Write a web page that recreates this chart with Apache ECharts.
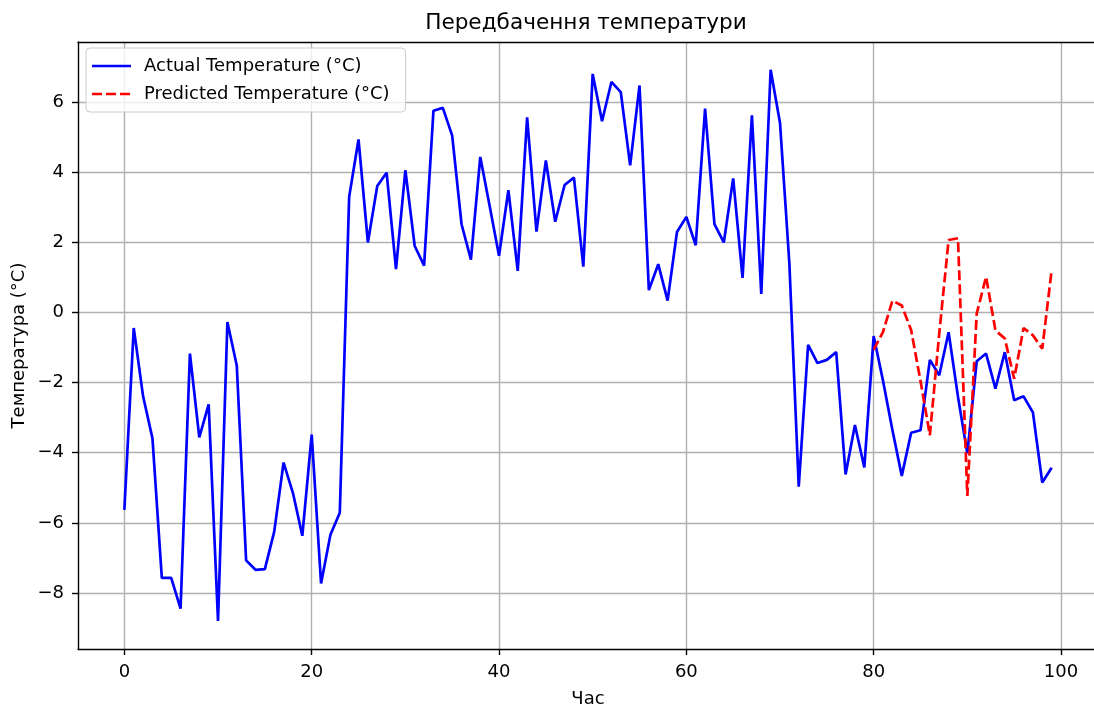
<!DOCTYPE html>
<html>
<head>
<meta charset="utf-8">
<script src="https://cdn.jsdelivr.net/npm/echarts@6/dist/echarts.min.js"></script>
<style>
  html, body { margin: 0; padding: 0; background: #fff; }
  #chart { width: 1094px; height: 706px; }
</style>
</head>
<body>
<div id="chart"></div>
<script>
// Hourly temperature: measured series (hours 0-99) and forecast (from hour 80)
const actualTemp = [
  -5.63, -0.44, -2.39, -3.59, -7.57, -7.57, -8.45, -1.17, -3.56, -2.62,
  -8.80, -0.27, -1.51, -7.07, -7.34, -7.32, -6.25, -4.28, -5.15, -6.37,
  -3.48, -7.73, -6.34, -5.71, 3.30, 4.94, 2.00, 3.61, 3.99, 1.24,
  4.06, 1.90, 1.34, 5.76, 5.84, 5.05, 2.52, 1.51, 4.44, 3.04,
  1.62, 3.49, 1.19, 5.57, 2.31, 4.34, 2.59, 3.64, 3.85, 1.31,
  6.81, 5.46, 6.58, 6.29, 4.20, 6.48, 0.64, 1.38, 0.34, 2.30,
  2.73, 1.92, 5.82, 2.52, 2.00, 3.83, 0.99, 5.63, 0.53, 6.93,
  5.41, 1.40, -4.97, -0.92, -1.44, -1.35, -1.13, -4.62, -3.21, -4.42,
  -0.67, -1.95, -3.35, -4.66, -3.43, -3.36, -1.35, -1.79, -0.56, -2.40,
  -4.02, -1.39, -1.17, -2.17, -1.13, -2.50, -2.39, -2.85, -4.85, -4.43
];
const predictedStartHour = 80;
const predictedTemp = [
  -1.06, -0.55, 0.34, 0.20, -0.50, -1.95, -3.50, -0.60, 2.07, 2.12,
  -5.23, -0.03, 1.02, -0.51, -0.74, -1.89, -0.44, -0.65, -1.03, 1.21
];
const xTicks = [0, 20, 40, 60, 80, 100];
const yTicks = [-8, -6, -4, -2, 0, 2, 4, 6];

const titleText = 'Передбачення температури';
const xName = 'Час';
const yName = 'Температура (°C)';
const actualName = 'Actual Temperature (°C)';
const predictedName = 'Predicted Temperature (°C)';

const FONT = 'DejaVu Sans';
const BLUE = '#0000ff';
const RED = '#ff0000';
const X_MIN = -4.95, X_MAX = 103.95;

const actualPoints = actualTemp.map((v, i) => [i, v]);
const predictedPoints = predictedTemp.map((v, i) => [predictedStartHour + i, v]);

// Legend swatches: a solid stroke and a dashed stroke
const solidIcon = 'path://M0,0H39V2.7H0Z';
const dashedIcon = 'path://M0,0H10V2.7H0Z M14,0H24V2.7H14Z M28,0H38V2.7H28Z M38.9,0H39V2.7H38.9Z';

const chart = echarts.init(document.getElementById('chart'), null, { renderer: 'canvas' });

const gridLine = { show: true, lineStyle: { color: '#b0b0b0', width: 1.4 } };
const spine = { show: true, onZero: false, lineStyle: { color: '#000', width: 1.4 } };

chart.setOption({
  animation: false,
  backgroundColor: '#ffffff',
  title: {
    text: titleText,
    left: 586,
    textAlign: 'center',
    top: 12,
    padding: 0,
    textStyle: { fontFamily: FONT, fontSize: 21.6, fontWeight: 'normal', color: '#000' }
  },
  grid: {
    left: 78, top: 42, width: 1020, height: 607,
    outerBoundsMode: 'none',
    containLabel: false,
    show: false
  },
  legend: {
    orient: 'vertical',
    left: 86,
    top: 48,
    padding: [8, 16, 8, 6],
    itemGap: 8,
    itemWidth: 39,
    itemHeight: 3,
    backgroundColor: 'rgba(255,255,255,0.8)',
    borderColor: '#cccccc',
    borderWidth: 1,
    borderRadius: 4,
    textStyle: { fontFamily: FONT, fontSize: 18, color: '#000', lineHeight: 20, padding: [0, 0, 0, 8] },
    data: [
      { name: actualName, icon: solidIcon, itemStyle: { color: BLUE } },
      { name: predictedName, icon: dashedIcon, itemStyle: { color: RED } }
    ]
  },
  xAxis: [
    {
      type: 'value',
      min: X_MIN,
      max: X_MAX,
      name: xName,
      nameLocation: 'middle',
      nameGap: 41,
      nameMoveOverlap: false,
      nameTextStyle: { fontFamily: FONT, fontSize: 18, color: '#000' },
      axisLine: spine,
      axisTick: { show: true, length: 6, customValues: xTicks, lineStyle: { color: '#000', width: 1.4 } },
      axisLabel: { customValues: xTicks, margin: 14, fontFamily: FONT, fontSize: 18, color: '#000' },
      splitLine: gridLine
    },
    {
      // top spine only
      type: 'value',
      position: 'top',
      min: X_MIN,
      max: X_MAX,
      axisLine: spine,
      axisTick: { show: false },
      axisLabel: { show: false },
      splitLine: { show: false }
    }
  ],
  yAxis: {
    type: 'value',
    min: -9.6,
    max: 7.72,
    name: yName,
    nameLocation: 'middle',
    nameRotate: 90,
    nameGap: 50,
    nameMoveOverlap: false,
    nameTextStyle: { fontFamily: FONT, fontSize: 18, color: '#000' },
    axisLine: spine,
    axisTick: { show: true, length: 6, customValues: yTicks, lineStyle: { color: '#000', width: 1.4 } },
    axisLabel: {
      customValues: yTicks, margin: 14, fontFamily: FONT, fontSize: 18, color: '#000',
      formatter: v => (v < 0 ? '\u2212' + Math.abs(v) : String(v))
    },
    splitLine: gridLine
  },
  series: [
    {
      name: actualName,
      type: 'line',
      data: actualPoints,
      showSymbol: false,
      symbol: 'none',
      lineStyle: { color: BLUE, width: 2.7 },
      itemStyle: { color: BLUE },
      z: 3
    },
    {
      name: predictedName,
      type: 'line',
      data: predictedPoints,
      showSymbol: false,
      symbol: 'none',
      lineStyle: { color: RED, width: 2.7, type: [10, 4] },
      itemStyle: { color: RED },
      z: 4
    }
  ]
});
</script>
</body>
</html>
